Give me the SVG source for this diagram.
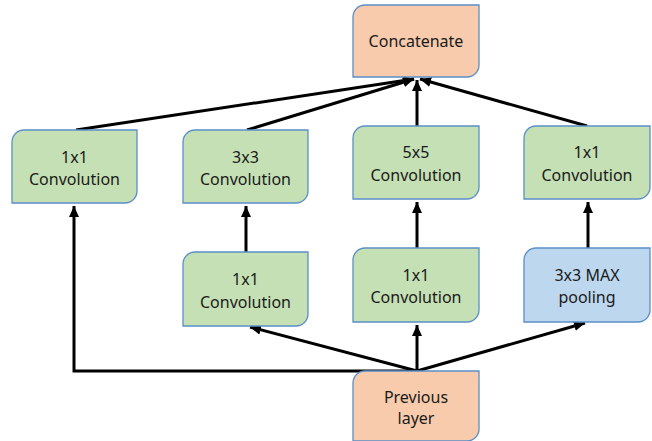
<svg xmlns="http://www.w3.org/2000/svg" width="652" height="441" viewBox="0 0 652 441">
<defs>
<style>
.g{fill:#c5e0b4;stroke:#5b8fc7;stroke-width:1.3}
.o{fill:#f8cbad;stroke:#5b8fc7;stroke-width:1.3}
.b{fill:#bdd7ee;stroke:#5b8fc7;stroke-width:1.3}
text{font-family:"Noto Sans","Open Sans",sans-serif;font-size:16px;fill:#1a1a1a;text-anchor:middle}
.c{fill:none;stroke:#000;stroke-width:3}
</style>
<marker id="ah" markerUnits="userSpaceOnUse" markerWidth="12" markerHeight="10" refX="11" refY="5" orient="auto">
<path d="M0,0 L11,5 L0,10 Z" fill="#000"/>
</marker>
</defs>
<rect width="652" height="441" fill="#fff"/>
<g id="connectors">
<path class="c" d="M417,371 H74 V206" marker-end="url(#ah)"/>
<line class="c" x1="417" y1="371" x2="250" y2="327" marker-end="url(#ah)"/>
<line class="c" x1="417" y1="371" x2="417" y2="325" marker-end="url(#ah)"/>
<line class="c" x1="417" y1="371" x2="585" y2="323" marker-end="url(#ah)"/>
<line class="c" x1="246" y1="252" x2="246" y2="206" marker-end="url(#ah)"/>
<line class="c" x1="417" y1="248" x2="417" y2="202" marker-end="url(#ah)"/>
<line class="c" x1="588" y1="248" x2="588" y2="202" marker-end="url(#ah)"/>
<line class="c" x1="76" y1="130" x2="414" y2="79" marker-end="url(#ah)"/>
<line class="c" x1="247" y1="130" x2="414" y2="79" marker-end="url(#ah)"/>
<line class="c" x1="417" y1="126" x2="417" y2="80" marker-end="url(#ah)"/>
<line class="c" x1="587" y1="126" x2="420" y2="79" marker-end="url(#ah)"/>
</g>
<g id="concatenate">
<path class="o" d="M365,5 H479 V65 A12,12 0 0 1 467,77 H353 V17 A12,12 0 0 1 365,5 Z"/>
<text x="416" y="47">Concatenate</text>
</g>
<g id="conv1x1_a">
<path class="g" d="M24,130 H137 V191 A12,12 0 0 1 125,203 H12 V142 A12,12 0 0 1 24,130 Z"/>
<text x="74.5" y="163">1x1</text>
<text x="74.5" y="185">Convolution</text>
</g>
<g id="conv3x3">
<path class="g" d="M195,130 H308 V191 A12,12 0 0 1 296,203 H183 V142 A12,12 0 0 1 195,130 Z"/>
<text x="245.5" y="163">3x3</text>
<text x="245.5" y="185">Convolution</text>
</g>
<g id="conv5x5">
<path class="g" d="M365,126 H479 V187 A12,12 0 0 1 467,199 H353 V138 A12,12 0 0 1 365,126 Z"/>
<text x="416" y="158">5x5</text>
<text x="416" y="181">Convolution</text>
</g>
<g id="conv1x1_d">
<path class="g" d="M536,126 H650 V187 A12,12 0 0 1 638,199 H524 V138 A12,12 0 0 1 536,126 Z"/>
<text x="587" y="158">1x1</text>
<text x="587" y="181">Convolution</text>
</g>
<g id="conv1x1_b">
<path class="g" d="M195,252 H308 V314 A12,12 0 0 1 296,326 H183 V264 A12,12 0 0 1 195,252 Z"/>
<text x="245.5" y="285">1x1</text>
<text x="245.5" y="308">Convolution</text>
</g>
<g id="conv1x1_c">
<path class="g" d="M365,248 H479 V310 A12,12 0 0 1 467,322 H353 V260 A12,12 0 0 1 365,248 Z"/>
<text x="416" y="281">1x1</text>
<text x="416" y="303">Convolution</text>
</g>
<g id="maxpool">
<path class="b" d="M536,248 H650 V310 A12,12 0 0 1 638,322 H524 V260 A12,12 0 0 1 536,248 Z"/>
<text x="587" y="281">3x3 MAX</text>
<text x="587" y="303">pooling</text>
</g>
<g id="previous">
<path class="o" d="M365,371 H479 V429 A12,12 0 0 1 467,441 H353 V383 A12,12 0 0 1 365,371 Z"/>
<text x="416" y="403">Previous</text>
<text x="416" y="424">layer</text>
</g>
</svg>
